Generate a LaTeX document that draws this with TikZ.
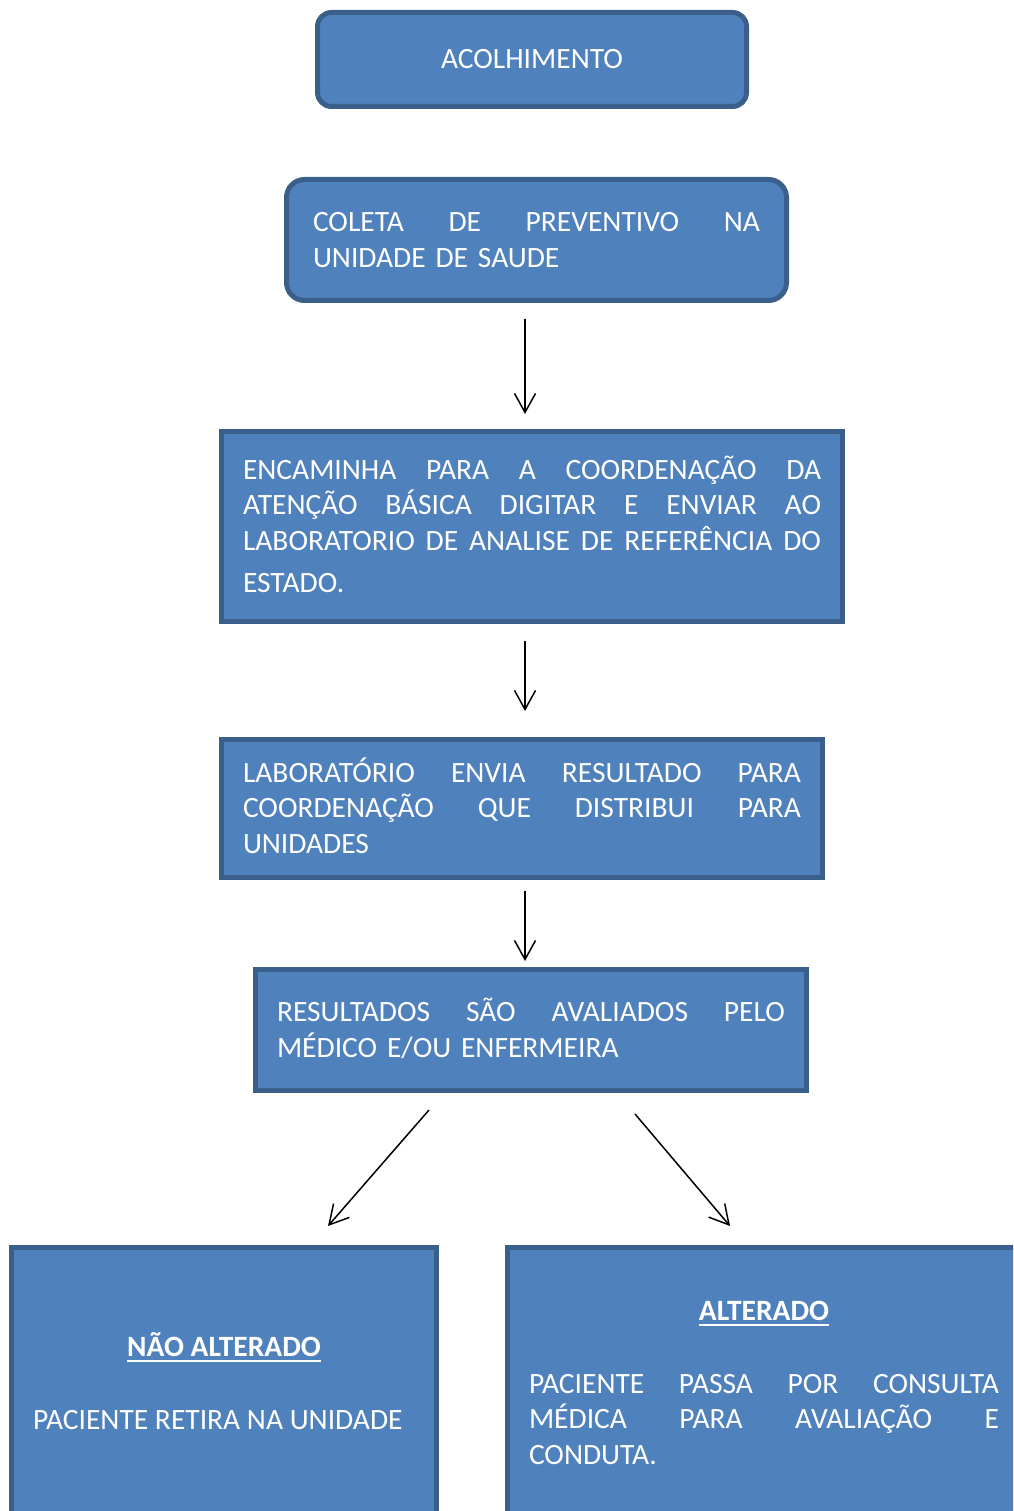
\documentclass[tikz,border=0pt]{standalone}
\usepackage{fontspec}
\setmainfont{Carlito}
\usetikzlibrary{arrows.meta}
\definecolor{boxfill}{HTML}{4F81BD}
\definecolor{boxline}{HTML}{3A5F8B}
% strut centred on the capital letters, one line high
\newcommand\lstrut{\rule[-8.45pt]{0pt}{35.5pt}}
% a line spread to the full given width (gaps marked with \hfill)
\newcommand\jline[2]{\leavevmode\hbox to #1{#2}\lstrut}
% bold title with a heavy underline
\newcommand\ulbold[1]{\setbox0\hbox{\bfseries #1}\rlap{\raisebox{-6pt}{\rule{\wd0}{2pt}}}\box0\lstrut}
\begin{document}
\begin{tikzpicture}[x=1pt,y=-1pt,
  box/.style={draw=boxline, fill=boxfill, line width=5pt, inner sep=0pt, outer sep=0pt,
    text=white, font=\fontsize{29.5pt}{35.5pt}\selectfont, align=left},
  txt/.style={inner sep=0pt, outer sep=0pt, text=white,
    font=\fontsize{29.5pt}{35.5pt}\selectfont, align=left},
  arr/.style={line width=1.5pt, -{Straight Barb[length=19pt,width=21pt]}}]
\useasboundingbox (0,0) rectangle (1013,1511);
\clip (0,0) rectangle (1013,1511);

\node[box, rounded corners=14pt, minimum width=429pt, minimum height=94pt] (b1) at (532,59.5)
  {ACOLHIMENTO\lstrut};

\node[box, rounded corners=18pt, minimum width=500pt, minimum height=121pt, text width=447pt] (b2) at (536.5,240)
  {\jline{447pt}{COLETA \hfill DE \hfill PREVENTIVO \hfill NA}\\
   UNIDADE DE SAUDE\lstrut};

\node[box, minimum width=621pt, minimum height=190pt, text width=578pt] (b3) at (532,526.5)
  {\jline{578pt}{ENCAMINHA \hfill PARA \hfill A \hfill COORDENAÇÃO \hfill DA}\\
   \jline{578pt}{ATENÇÃO \hfill BÁSICA \hfill DIGITAR \hfill E \hfill ENVIAR \hfill AO}\\
   \jline{578pt}{LABORATORIO \hfill DE \hfill ANALISE \hfill DE \hfill REFERÊNCIA \hfill DO}\\[7pt]
   ESTADO.\lstrut};

\node[box, minimum width=601pt, minimum height=138pt, text width=558pt] (b4) at (522,808.5)
  {\jline{558pt}{LABORATÓRIO \hfill ENVIA \hfill RESULTADO \hfill PARA}\\
   \jline{558pt}{COORDENAÇÃO \hfill QUE \hfill DISTRIBUI \hfill PARA}\\
   UNIDADES\lstrut};

\node[box, minimum width=551pt, minimum height=121pt, text width=508pt] (b5) at (531,1030)
  {\jline{508pt}{RESULTADOS \hfill SÃO \hfill AVALIADOS \hfill PELO}\\
   MÉDICO E/OU ENFERMEIRA\lstrut};

\node[box, anchor=north, minimum width=425pt, minimum height=400pt] (b6) at (224,1247.5) {};
\node[box, anchor=north, minimum width=513pt, minimum height=400pt] (b7) at (764,1247.5) {};

\node[txt] (t6a) at (224,1347) {\ulbold{NÃO ALTERADO}};
\node[txt, anchor=west] (t6b) at (33,1420) {PACIENTE RETIRA NA UNIDADE\lstrut};
\node[txt] (t7a) at (764,1311) {\ulbold{ALTERADO}};
\node[txt, text width=470pt] (t7b) at (764,1419.5)
  {\jline{470pt}{PACIENTE \hfill PASSA \hfill POR \hfill CONSULTA}\\
   \jline{470pt}{MÉDICA \hfill PARA \hfill AVALIAÇÃO \hfill E}\\
   CONDUTA.\lstrut};

% vertical connectors
\coordinate (ax) at (525,0);
\draw[arr, shorten <=18.5pt, shorten >=17.5pt] (b2.south -| ax) -- (b3.north -| ax);
\draw[arr, shorten <=19.5pt, shorten >=28.5pt] (b3.south -| ax) -- (b4.north -| ax);
\draw[arr, shorten <=13.5pt, shorten >=8.5pt] (b4.south -| ax) -- (b5.north -| ax);

% branching connectors
\coordinate (d1s) at ([xshift=-102pt,yshift=-19.5pt]b5.south);
\coordinate (d1e) at ([xshift=104pt,yshift=21.5pt]b6.north);
\coordinate (d2s) at ([xshift=104pt,yshift=-23.5pt]b5.south);
\coordinate (d2e) at ([xshift=-34pt,yshift=21.5pt]b7.north);
\draw[arr] (d1s) -- (d1e);
\draw[arr] (d2s) -- (d2e);
\end{tikzpicture}
\end{document}
